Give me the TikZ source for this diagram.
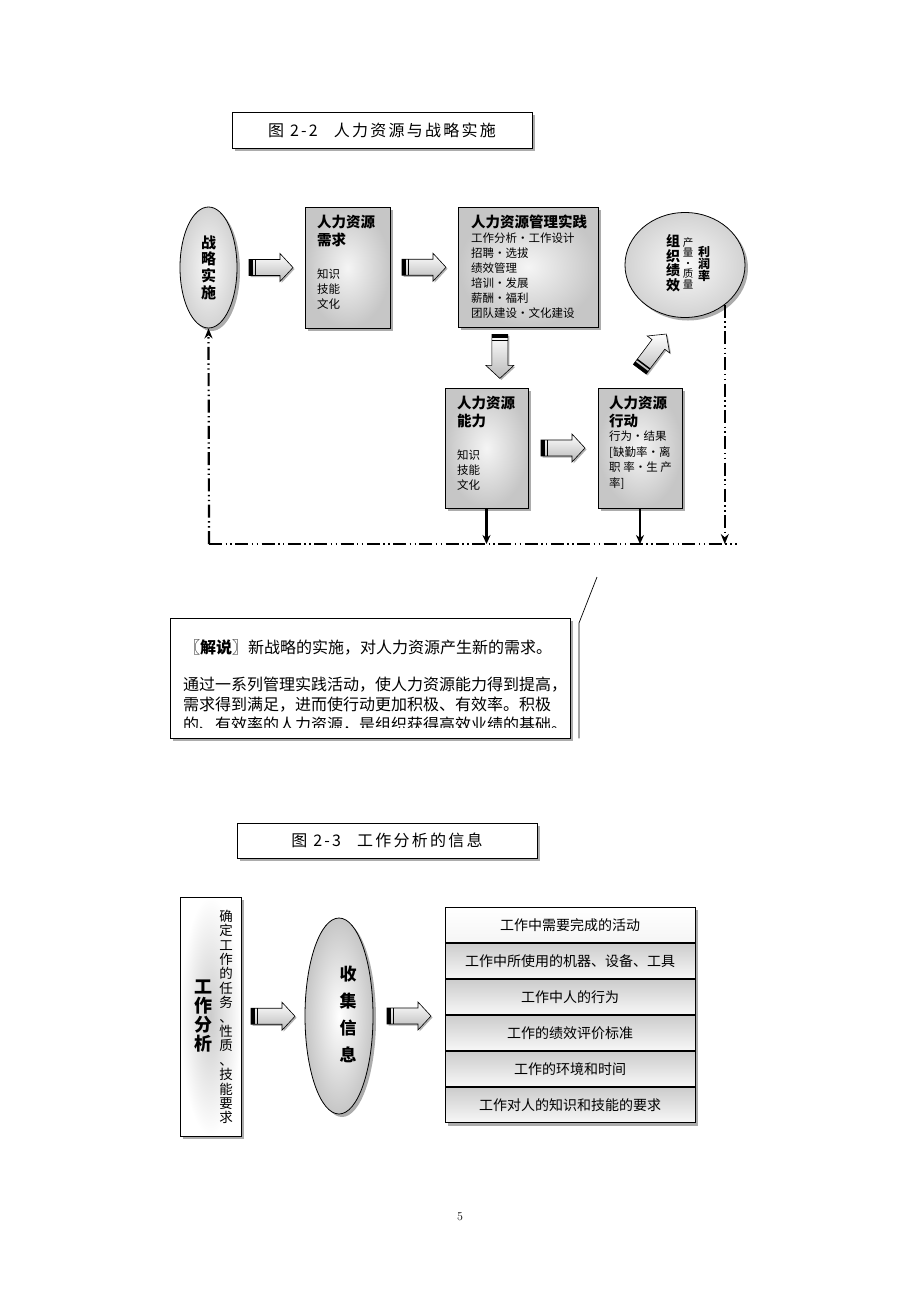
\documentclass[tikz,border=0pt]{standalone}
\usepackage{fontspec}
\newfontfamily\cjk{Noto Sans CJK SC}
\usetikzlibrary{positioning,calc,shadows,shapes.geometric,arrows.meta}

\tikzset{
  shd/.style={drop shadow={shadow xshift=3pt,shadow yshift=-3pt,fill=gray!65,opacity=1}},
  titlebox/.style={draw,line width=.8pt,fill=white,shd,minimum width=300pt,minimum height=36pt,
    font=\cjk\fontsize{16}{18}\selectfont\addfontfeature{LetterSpace=14}},
  hrbox/.style={draw,line width=.8pt,shd,inner color=gray!8,outer color=gray!45,inner sep=0pt},
  oval/.style={ellipse,draw,line width=.8pt,shd,inner color=gray!5,outer color=gray!35,inner sep=0pt},
  hd/.style={font=\cjk\bfseries\fontsize{14.5}{18}\selectfont,align=left,anchor=north west,inner sep=0pt},
  bd/.style={font=\cjk\fontsize{11.5}{15}\selectfont,align=left,anchor=north west,inner sep=0pt},
  vcol/.style={align=center,inner sep=0pt},
  fbline/.style={line width=2.2pt,dash pattern=on 13pt off 3.5pt on 1.4pt off 3.5pt on 1.4pt off 3.5pt},
  drop/.style={line width=2.4pt,-{Stealth[length=9pt,width=8pt]}},
  row/.style={draw,line width=.8pt,shd,minimum width=250pt,minimum height=35.2pt,
    top color=gray!40,bottom color=gray!6,font=\cjk\fontsize{14}{16}\selectfont},
  fatarrow/.pic={
    \shade[draw,line width=.6pt,top color=white,bottom color=gray!55,
      drop shadow={shadow xshift=1.5pt,shadow yshift=-1.5pt,fill=gray!60,opacity=1}]
      (-22,-8) -- (9,-8) -- (9,-14) -- (22,0) -- (9,14) -- (9,8) -- (-22,8) -- cycle;
    \fill (-22,-8) rectangle (-18.5,8);
    \fill (-16.5,-8) rectangle (-15,8);
  }
}

\begin{document}
\begin{tikzpicture}[x=1pt,y=-1pt]
\useasboundingbox (0,0) rectangle (920,1302);

% figure 2-2
\node[titlebox] (title1) at (382,130) {图 2-2\hspace{1em}人力资源与战略实施};

\node[oval,minimum width=57pt,minimum height=121pt,font=\cjk\bfseries\fontsize{15}{16.7}\selectfont,align=center]
  (strat) at (208.5,267.5) {战\\略\\实\\施};

\node[hrbox,minimum width=85pt,minimum height=121pt] (need) at (347.5,267.5) {};
\node[hd] (needH) at (317,215) {人力资源\\需求};
\node[bd] (needB) at (317,269) {知识\\技能\\文化};

\node[hrbox,minimum width=140pt,minimum height=120pt] (prac) at (528,267) {};
\node[hd] (pracH) at (471,215) {人力资源管理实践};
\node[bd] (pracB) at (471,233) {工作分析・工作设计\\招聘・选拔\\绩效管理\\培训・发展\\薪酬・福利\\团队建设・文化建设};

\node[oval,minimum width=120pt,minimum height=105pt] (perf) at (685,265) {};
\node[vcol,font=\cjk\bfseries\fontsize{14}{14.5}\selectfont] (perfA) at (673,263) {组\\织\\绩\\效};
\node[vcol,font=\cjk\fontsize{10.5}{10.5}\selectfont] (perfB) at (688,263) {产\\量\\・\\质\\量};
\node[vcol,font=\cjk\bfseries\fontsize{12}{12}\selectfont] (perfC) at (704,264) {利\\润\\率};

\node[hrbox,minimum width=83pt,minimum height=120pt] (cap) at (486.5,448) {};
\node[hd] (capH) at (457,396) {人力资源\\能力};
\node[bd] (capB) at (457,450) {知识\\技能\\文化};

\node[hrbox,minimum width=84pt,minimum height=120pt] (act) at (640,448) {};
\node[hd] (actH) at (609,396) {人力资源\\行动};
\node[bd,font=\cjk\fontsize{11.5}{15.5}\selectfont] (actB) at (609,431) {行为・结果\\{}[缺勤率·离\\职 率·生 产\\率]};

% block arrows
\pic at ($(strat.east)!0.5!(need.west)$) {fatarrow};
\pic at ($(need.east)!0.5!(prac.west)$) {fatarrow};
\pic[rotate=-90] at ($(prac.south west)!0.3!(prac.south east)+(0,29)$) {fatarrow};
\pic at ($(cap.east)!0.5!(act.west)$) {fatarrow};
\pic[rotate=53] at ($(act.north)+(13,-36)$) {fatarrow};

% feedback loop
\coordinate (fbl) at (209,544);
\coordinate (fbr) at (737,544);
\draw[fbline] (fbl) -- (fbr);
\draw[fbline,-{Stealth[length=10pt,width=8pt]}] (fbl) -- (strat.south);
\draw[fbline,-{Stealth[length=10pt,width=8pt]}] (perf.-45) -- (perf.-45 |- fbl);
\draw[drop] (cap.south) -- (cap.south |- fbl);
\draw[drop] (act.south) -- (act.south |- fbl);

% note
\node[draw,line width=.8pt,fill=white,shd,minimum width=400pt,minimum height=120pt] (note) at (370,678) {};
\begin{scope}
  \clip (note.north west) rectangle ($(note.south east)+(0,-11)$);
  \node[anchor=west,inner sep=0pt,font=\cjk\fontsize{16}{20}\selectfont] (noteA) at (184,647)
    {{\bfseries 〖解说〗}新战略的实施，对人力资源产生新的需求。};
  \node[anchor=north west,inner sep=0pt,align=left,font=\cjk\fontsize{16}{20}\selectfont] (noteB) at (183,677)
    {通过一系列管理实践活动，使人力资源能力得到提高，\\需求得到满足，进而使行动更加积极、有效率。积极\\的、有效率的人力资源，是组织获得高效业绩的基础。};
\end{scope}
\coordinate (ptip) at (597,577);
\coordinate (pknee) at (579,623);
\draw[line width=.7pt] (ptip) -- (pknee) -- (pknee |- note.south);

% figure 2-3
\node[titlebox,minimum height=35pt] (title2) at (387,840.5) {图 2-3\hspace{1em}工作分析的信息};

\node[hrbox,minimum width=61pt,minimum height=239pt,inner color=gray!40,outer color=white] (job) at (210.5,1016.5) {};
\node[vcol,font=\cjk\bfseries\fontsize{18}{19}\selectfont] (jobA) at (203,1016) {工\\作\\分\\析};
\node[vcol,font=\cjk\fontsize{13.5}{14.4}\selectfont] (jobB) at (226,1017)
  {确\\定\\工\\作\\的\\任\\务\\、\\性\\质\\、\\技\\能\\要\\求};

\node[oval,minimum width=68pt,minimum height=196pt,inner color=white,outer color=gray!45] (coll) at (339,1016) {};
\node[vcol,font=\cjk\bfseries\fontsize{17}{27}\selectfont] (collT) at (348,1014) {收\\集\\信\\息};

\pic at ($(job.east)!0.5!(coll.west)$) {fatarrow};

\node[row,top color=white,bottom color=gray!8] (r1) at (570,925) {工作中需要完成的活动};
\foreach \t [count=\i from 2, remember=\i as \p (initially 1)] in
  {工作中所使用的机器、设备、工具,工作中人的行为,工作的绩效评价标准,工作的环境和时间,工作对人的知识和技能的要求}
  \node[row,below=0pt of r\p] (r\i) {\t};

\pic at ($(coll.east)!0.5!(r1.west |- coll)$) {fatarrow};

\node[font=\fontsize{12}{14}\selectfont] (pageno) at (460,1217) {5};
\end{tikzpicture}
\end{document}
